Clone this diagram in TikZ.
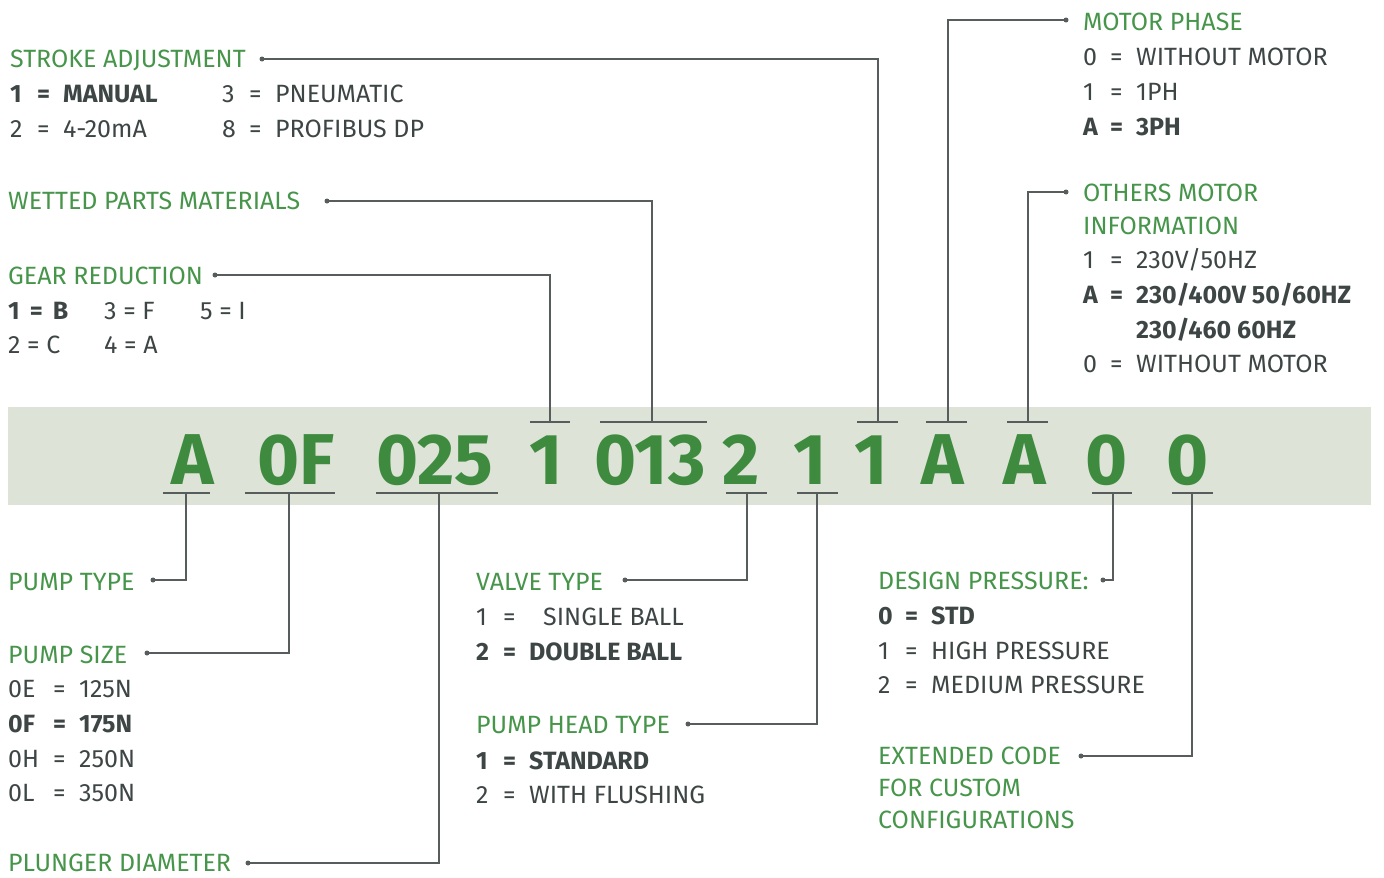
\documentclass[tikz,border=0pt]{standalone}
\usepackage{fontspec}
\setmainfont{Fira Sans}
\usetikzlibrary{positioning}

\definecolor{codegreen}{HTML}{3E8B3F}
\definecolor{titlegreen}{HTML}{46954A}
\definecolor{textgrey}{HTML}{3E4545}
\definecolor{linegrey}{HTML}{575C5C}
\definecolor{bandgrey}{HTML}{DDE3D6}

% key = value rows
\newcommand{\kv}[3][27pt]{\makebox[#1][l]{#2}\makebox[26pt][l]{=}#3}

\tikzset{
  title/.style={anchor=base west, inner sep=0pt, yshift=1pt, text=titlegreen, font=\fontsize{25}{32}\selectfont, align=left},
  entry/.style={anchor=base west, inner sep=0pt, yshift=1pt, text=textgrey, font=\fontsize{25}{32}\selectfont},
  codechar/.style={anchor=base, inner sep=0pt, text=codegreen, font=\fontsize{72}{80}\selectfont\bfseries},
  lead/.style={draw=linegrey, line width=1.4pt},
  tickline/.style={draw=linegrey, line width=1.6pt},
  pin/.style={circle, fill=linegrey, inner sep=0pt, minimum size=5pt},
}

\begin{document}
\begin{tikzpicture}[x=1pt,y=-1pt]
\useasboundingbox (0,0) rectangle (1384,878);

% code band
\fill[bandgrey] (8,407) rectangle (1371,505);
\node[codechar] (cA)   at (193,484) {A};
\node[codechar] (c0F)  at (296,484) {0F};
\node[codechar] (c025) at (435,484) {025};
\node[codechar] (c1a)  at (546,484) {1};
\node[codechar] (c013) at (650,484) {013};
\node[codechar] (c2)   at (741,484) {2};
\node[codechar] (c1b)  at (810,484) {1};
\node[codechar] (c1c)  at (871,484) {1};
\node[codechar] (cAa)  at (943,484) {A};
\node[codechar] (cAb)  at (1025,484) {A};
\node[codechar] (c0a)  at (1107,484) {0};
\node[codechar] (c0b)  at (1188,484) {0};

% ticks over and under the code
\draw[tickline] (163,493) -- (210,493);
\draw[tickline] (245,493) -- (335,493);
\draw[tickline] (376,493) -- (498,493);
\draw[tickline] (726,493) -- (767,493);
\draw[tickline] (797,493) -- (838,493);
\draw[tickline] (1092,493) -- (1132,493);
\draw[tickline] (1172,493) -- (1213,493);
\draw[tickline] (530,422) -- (570,422);
\draw[tickline] (600,422) -- (707,422);
\draw[tickline] (857,422) -- (898,422);
\draw[tickline] (926,422) -- (967,422);
\draw[tickline] (1007,422) -- (1048,422);

\coordinate (tkType)    at (186,493);
\coordinate (tkSize)    at (289,493);
\coordinate (tkPlunger) at (439,493);
\coordinate (tkValve)   at (747,493);
\coordinate (tkHead)    at (817,493);
\coordinate (tkDesign)  at (1113,493);
\coordinate (tkExt)     at (1192,493);
\coordinate (tkGear)    at (550,422);
\coordinate (tkWetted)  at (652,422);
\coordinate (tkStroke)  at (878,422);
\coordinate (tkPhase)   at (948,422);
\coordinate (tkOther)   at (1028,422);

% upper left
\node[title] (stroke) at (10,68) {STROKE ADJUSTMENT};
\node[entry] (s1) at (10,103) {\bfseries\kv{1}{MANUAL}};
\node[entry] (s3) at (222,103) {\kv{3}{PNEUMATIC}};
\node[entry] (s2) at (10,138) {\kv{2}{4-20mA}};
\node[entry] (s8) at (222,138) {\kv{8}{PROFIBUS DP}};
\node[title] (wetted) at (8,210) {WETTED PARTS MATERIALS};
\node[title] (gear) at (8,285) {GEAR REDUCTION};
\node[entry] (g1) at (8,320) {\bfseries 1 \,=\, B};
\node[entry] (g3) at (104,320) {3 = F};
\node[entry] (g5) at (200,320) {5 = I};
\node[entry] (g2) at (8,354) {2 = C};
\node[entry] (g4) at (104,354) {4 = A};

% upper right
\node[title] (phase) at (1083,31) {MOTOR PHASE};
\node[entry] (p0) at (1083,66) {\kv{0}{WITHOUT MOTOR}};
\node[entry] (p1) at (1083,101) {\kv{1}{1PH}};
\node[entry] (pA) at (1083,136) {\bfseries\kv{A}{3PH}};
\node[title] (other) at (1083,202) {OTHERS MOTOR};
\node[title] (other2) at (1083,235) {INFORMATION};
\node[entry] (o1) at (1083,269) {\kv{1}{230V/50HZ}};
\node[entry] (oA) at (1083,304) {\bfseries\kv{A}{230/400V 50/60HZ}};
\node[entry] (oA2) at (1136,339) {\bfseries 230/460 60HZ};
\node[entry] (o0) at (1083,373) {\kv{0}{WITHOUT MOTOR}};

% lower left
\node[title] (ptype) at (8,591) {PUMP TYPE};
\node[title] (psize) at (8,664) {PUMP SIZE};
\node[entry] (z1) at (8,698) {\kv[45pt]{0E}{125N}};
\node[entry] (z2) at (8,733) {\bfseries\kv[45pt]{0F}{175N}};
\node[entry] (z3) at (8,768) {\kv[45pt]{0H}{250N}};
\node[entry] (z4) at (8,802) {\kv[45pt]{0L}{350N}};
\node[title] (plunger) at (8,872) {PLUNGER DIAMETER};

% lower middle
\node[title] (valve) at (476,591) {VALVE TYPE};
\node[entry] (v1) at (476,626) {\kv{1}{\hspace{14pt}SINGLE BALL}};
\node[entry] (v2) at (476,661) {\bfseries\kv{2}{DOUBLE BALL}};
\node[title] (head) at (476,734) {PUMP HEAD TYPE};
\node[entry] (h1) at (476,770) {\bfseries\kv{1}{STANDARD}};
\node[entry] (h2) at (476,804) {\kv{2}{WITH FLUSHING}};

% lower right
\node[title] (design) at (878,590) {DESIGN PRESSURE:};
\node[entry] (d0) at (878,625) {\bfseries\kv{0}{STD}};
\node[entry] (d1) at (878,660) {\kv{1}{HIGH PRESSURE}};
\node[entry] (d2) at (878,694) {\kv{2}{MEDIUM PRESSURE}};
\node[title] (ext) at (878,765) {EXTENDED CODE};
\node[title] (ext2) at (878,797) {FOR CUSTOM};
\node[title] (ext3) at (878,829) {CONFIGURATIONS};

% pins
\node[pin] (dStroke)  at (262,59) {};
\node[pin] (dWetted)  at (327,201) {};
\node[pin] (dGear)    at (215,275) {};
\node[pin] (dPhase)   at (1066,20) {};
\node[pin] (dOther)   at (1066,192) {};
\node[pin] (dType)    at (153,580) {};
\node[pin] (dSize)    at (147,653) {};
\node[pin] (dPlunger) at (248,863) {};
\node[pin] (dValve)   at (625,580) {};
\node[pin] (dHead)    at (688,724) {};
\node[pin] (dDesign)  at (1103,580) {};
\node[pin] (dExt)     at (1081,756) {};

% leaders
\draw[lead] (dStroke.center) -| (tkStroke);
\draw[lead] (dWetted.center) -| (tkWetted);
\draw[lead] (dGear.center) -| (tkGear);
\draw[lead] (dPhase.center) -| (tkPhase);
\draw[lead] (dOther.center) -| (tkOther);
\draw[lead] (dType.center) -| (tkType);
\draw[lead] (dSize.center) -| (tkSize);
\draw[lead] (dPlunger.center) -| (tkPlunger);
\draw[lead] (dValve.center) -| (tkValve);
\draw[lead] (dHead.center) -| (tkHead);
\draw[lead] (dDesign.center) -| (tkDesign);
\draw[lead] (dExt.center) -| (tkExt);
\end{tikzpicture}
\end{document}
